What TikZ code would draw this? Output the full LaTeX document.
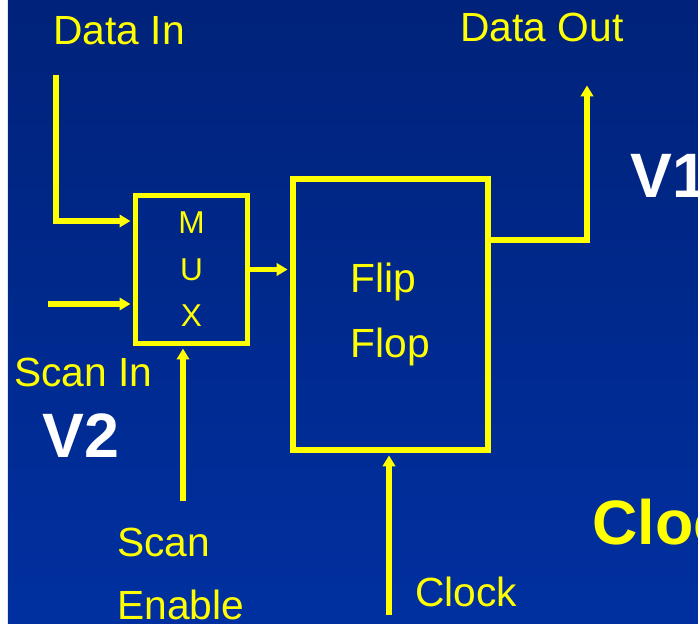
\documentclass[tikz,border=0pt]{standalone}
\usepackage{fontspec}
\setmainfont{Liberation Sans}
\usetikzlibrary{positioning,arrows.meta,calc}
\definecolor{sig}{HTML}{FFFF00}
\definecolor{bgtop}{HTML}{00227A}
\definecolor{bgbot}{HTML}{0030A0}
\tikzset{
  blk/.style={draw=sig,line width=3pt,inner sep=0pt,text=sig},
  lbl/.style={text=sig,font=\fontsize{23.2}{28}\selectfont,inner sep=0pt,anchor=base west},
  big/.style={font=\fontsize{35.7}{40}\selectfont\bfseries,inner sep=0pt,anchor=base west},
  wire/.style={draw=sig,line width=3.2pt},
  sarr/.style={wire,-{Triangle[length=6.2pt,width=7pt]},shorten >=1.4pt},
}
\begin{document}
\begin{tikzpicture}[x=0.02cm,y=-0.02cm]
\useasboundingbox (0,0) rectangle (698,624);
\clip (0,0) rectangle (698,624);
\fill[white] (0,0) rectangle (8,624);
\shade[top color=bgtop,bottom color=bgbot] (8,0) rectangle (698,624);
\node[blk,minimum width=2.24cm,minimum height=2.96cm,font=\fontsize{18}{26.4}\selectfont,align=center] (mux) at (191.5,269.5) {M\\U\\X};
\node[blk,line width=3.4pt,minimum width=3.9cm,minimum height=5.42cm,font=\fontsize{23.2}{36.8}\selectfont,align=left] (ff) at (390.5,314.5) {Flip\\Flop};
\node[lbl] (dinlbl) at (53,45) {Data In};
\node[lbl] (doutlbl) at (460,42) {Data Out};
\node[lbl] (sinlbl) at (14,387) {Scan In};
\node[lbl] (senlbl) at (117,557) {Scan};
\node[lbl] (enlbl) at (117,620) {Enable};
\node[lbl] (clklbl) at (415,607) {Clock};
\node[big,text=white] (v1) at (630,198) {V1};
\node[big,text=white] (v2) at (42,458) {V2};
\node[big,text=sig] (clkbig) at (592,545) {Clock};
\coordinate (din) at (56,75);
\coordinate (sin) at (48,304);
\coordinate (sen) at (183,501);
\coordinate (clk) at (389,615);
\coordinate (dout) at (587,83);
\draw[sarr] (din) |- ([yshift=0.97cm]mux.west);
\draw[sarr] (sin) -- (sin -| mux.west);
\draw[sarr] (sen) -- (sen |- mux.south);
\draw[sarr] (mux.east) -- (mux.east -| ff.west);
\draw[sarr] (clk) -- (clk |- ff.south);
\draw[sarr] ([yshift=1.49cm]ff.east) -| (dout);
\end{tikzpicture}
\end{document}
